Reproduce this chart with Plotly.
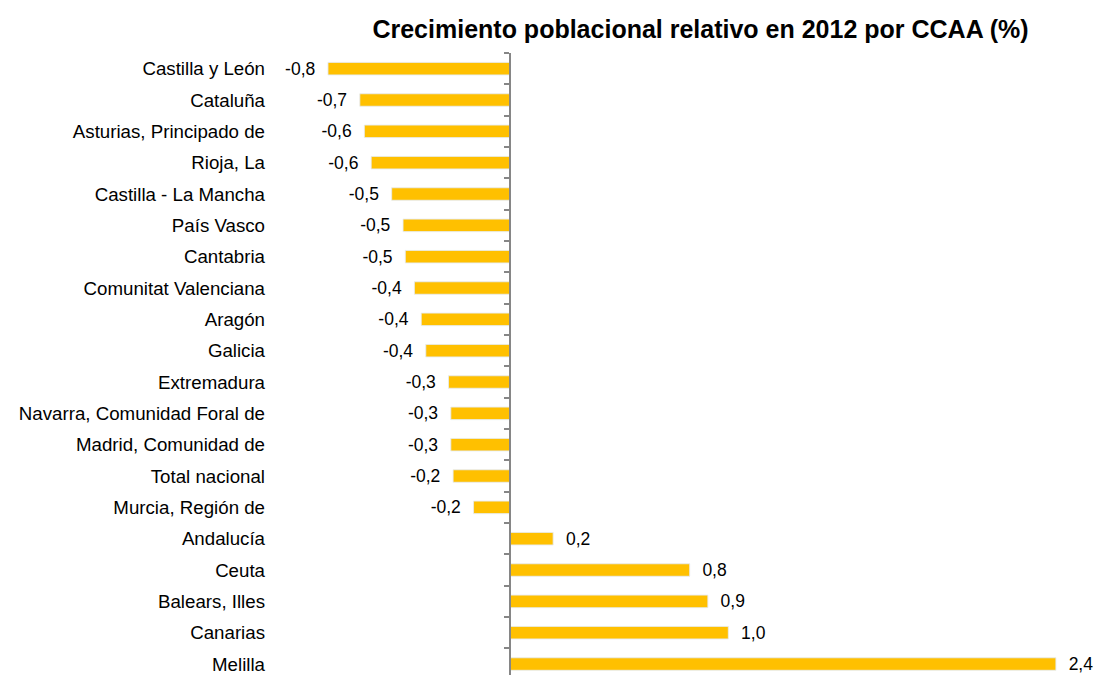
import plotly.graph_objects as go

# Data, top to bottom as shown in the chart
regions = [
    "Castilla y León", "Cataluña", "Asturias, Principado de", "Rioja, La",
    "Castilla - La Mancha", "País Vasco", "Cantabria", "Comunitat Valenciana",
    "Aragón", "Galicia", "Extremadura", "Navarra, Comunidad Foral de",
    "Madrid, Comunidad de", "Total nacional", "Murcia, Región de",
    "Andalucía", "Ceuta", "Balears, Illes", "Canarias", "Melilla",
]
growth = [
    -0.80, -0.66, -0.64, -0.61, -0.52, -0.47, -0.46, -0.42, -0.39, -0.37,
    -0.27, -0.26, -0.26, -0.25, -0.16, 0.19, 0.79, 0.87, 0.96, 2.40,
]

BAR_COLOR = "#FFC000"
AXIS_COLOR = "#868686"
FONT = "Arial, Liberation Sans, sans-serif"

labels = []
for v in growth:
    s = f"{v:.1f}".replace(".", ",")
    labels.append(s + "\u00a0\u00a0" if v < 0 else "\u00a0\u00a0" + s)

n = len(regions)
yrange = [n - 0.65, -0.5]

fig = go.Figure()
fig.add_trace(go.Bar(
    x=growth,
    y=regions,
    orientation="h",
    marker_color=BAR_COLOR,
    width=0.4,
    text=labels,
    textposition="outside",
    constraintext="none",
    textfont=dict(size=17.5, color="#000000", family=FONT),
    cliponaxis=False,
    hoverinfo="x+y",
))
# invisible copy so the zero axis (with tick marks) is drawn
fig.add_trace(go.Bar(
    x=growth,
    y=regions,
    orientation="h",
    marker_color="rgba(0,0,0,0)",
    width=0.4,
    yaxis="y2",
    hoverinfo="skip",
    showlegend=False,
))

xmin, xmax = -1.046, 2.418
zero_pos = (0 - xmin) / (xmax - xmin)

fig.update_layout(
    title=dict(
        text="<b>Crecimiento poblacional relativo en 2012 por CCAA (%)</b>",
        x=0.638, xanchor="center", y=0.957, yanchor="middle",
        font=dict(size=25, color="#000000", family=FONT),
    ),
    width=1098,
    height=675,
    margin=dict(l=272, r=38, t=53, b=0, autoexpand=False),
    plot_bgcolor="white",
    paper_bgcolor="white",
    showlegend=False,
    bargap=0.6,
    xaxis=dict(
        range=[xmin, xmax],
        visible=False,
        showgrid=False,
        zeroline=False,
        automargin=False,
    ),
    yaxis=dict(
        type="category",
        categoryorder="array",
        categoryarray=regions,
        range=yrange,
        showline=False,
        showgrid=False,
        ticks="",
        automargin=False,
        tickfont=dict(size=18.7, color="#000000", family=FONT),
        ticklabelstandoff=6,
    ),
    yaxis2=dict(
        type="category",
        categoryorder="array",
        categoryarray=regions,
        range=yrange,
        overlaying="y",
        anchor="free",
        position=zero_pos,
        side="left",
        showline=True,
        linecolor=AXIS_COLOR,
        linewidth=2,
        ticks="outside",
        tickson="boundaries",
        ticklen=5,
        tickwidth=2,
        tickcolor=AXIS_COLOR,
        showticklabels=False,
        showgrid=False,
        automargin=False,
    ),
)

fig.write_html(
    "out.html",
    config={"displayModeBar": False},
    post_script="document.body.style.margin='0';",
)
